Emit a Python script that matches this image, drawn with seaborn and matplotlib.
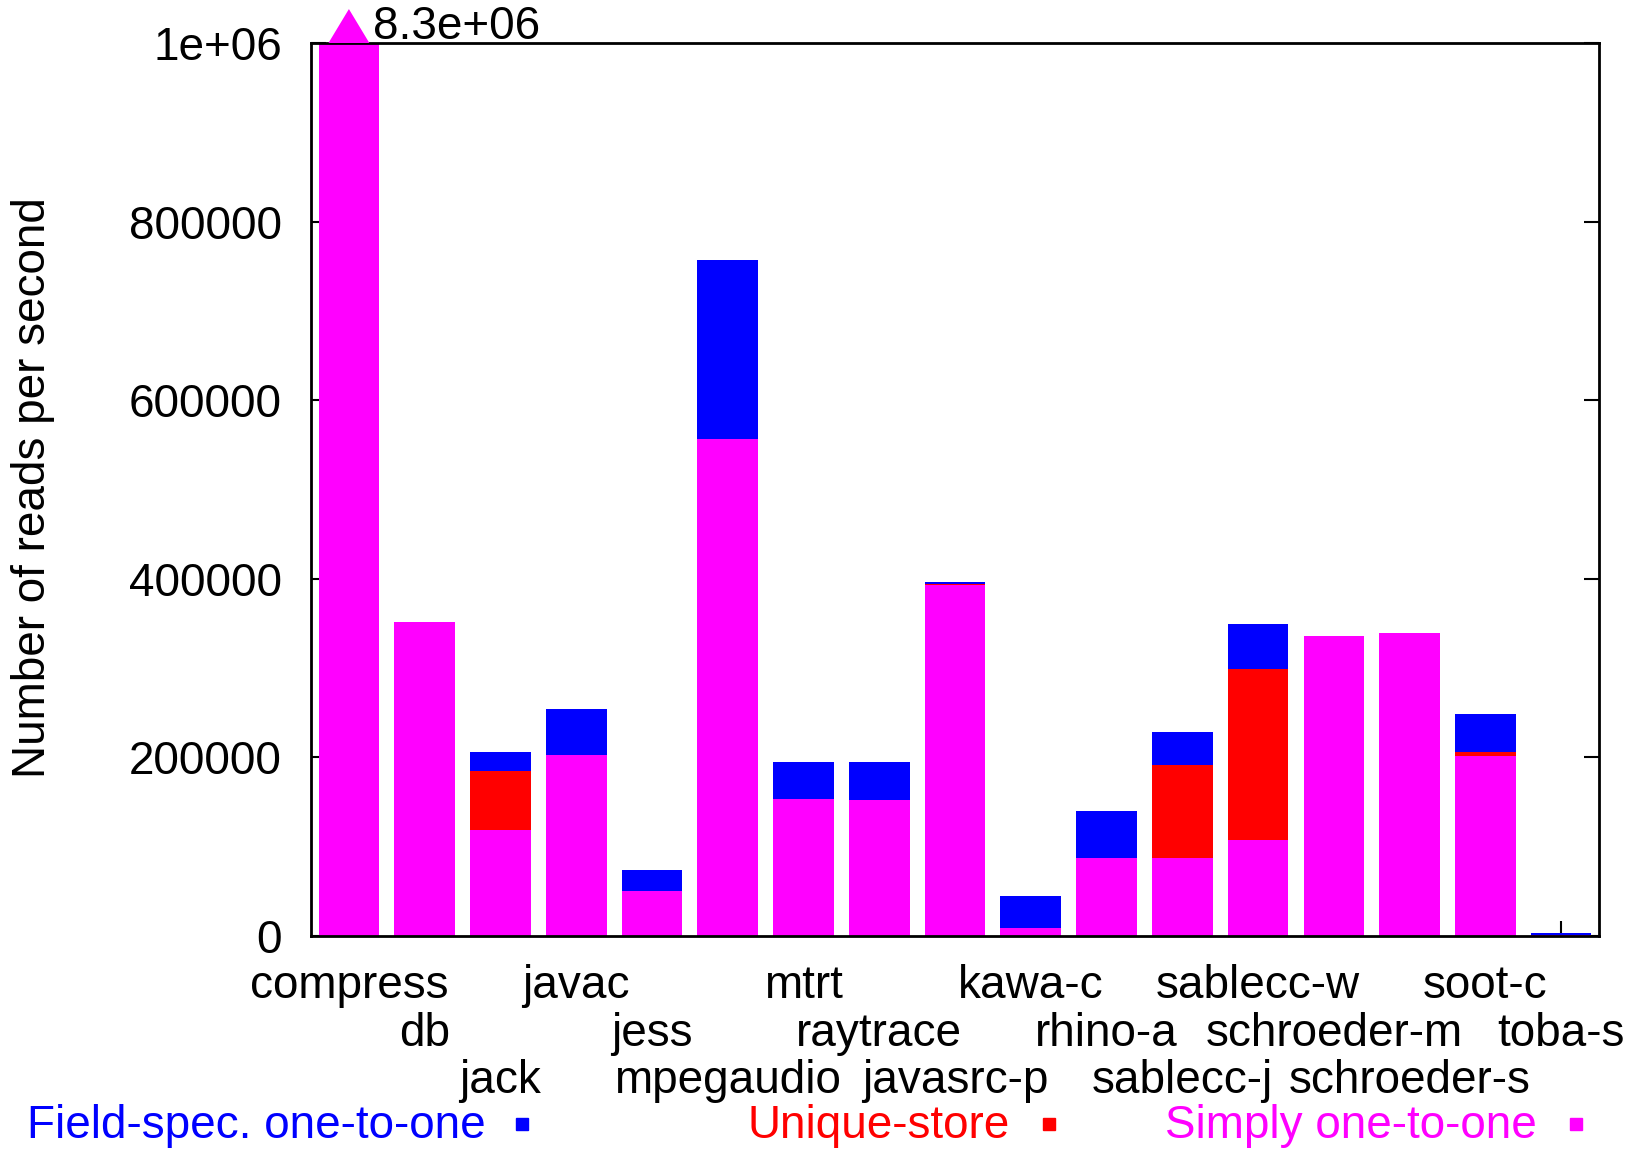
import numpy as np
import pandas as pd
import matplotlib
matplotlib.use('Agg')
import matplotlib.pyplot as plt
import seaborn as sns

# benchmarks in plot order
benchmarks = ['compress', 'db', 'jack', 'javac', 'jess', 'mpegaudio', 'mtrt',
              'raytrace', 'javasrc-p', 'kawa-c', 'rhino-a', 'sablecc-j',
              'sablecc-w', 'schroeder-m', 'schroeder-s', 'soot-c', 'toba-s']

# reads per second (bars are overlaid, not stacked)
field_spec = [8.3e6, 352000, 206000, 254000, 74000, 757000, 195000, 195000,
              396000, 45000, 140000, 229000, 349000, 336000, 339000, 248500, 3500]
unique_store = [8.3e6, 352000, 184700, 202700, 50400, 557000, 153000, 152000,
                394000, 9000, 87300, 191600, 299000, 336000, 339000, 206000, 1500]
simply = [8.3e6, 352000, 118700, 202700, 50400, 557000, 153000, 152000,
          392700, 9000, 87300, 87600, 107500, 336000, 339000, 201600, 1500]

series = [('Field-spec. one-to-one', field_spec, '#0000ff'),
          ('Unique-store', unique_store, '#ff0000'),
          ('Simply one-to-one', simply, '#ff00ff')]

yticks = [0, 200000, 400000, 600000, 800000, 1000000]
ytick_labels = ['0', '200000', '400000', '600000', '800000', '1e+06']
ymax = 1e6

sns.set_style('white')
plt.rcParams['font.family'] = ['Liberation Sans', 'DejaVu Sans']
plt.rcParams['text.color'] = 'black'
plt.rcParams['xtick.color'] = 'black'
plt.rcParams['ytick.color'] = 'black'
plt.rcParams['axes.labelcolor'] = 'black'
FS = 33

fig = plt.figure(figsize=(16.37, 11.5), dpi=100)
ax = fig.add_axes([0.190, 0.186, 0.7868, 0.7766])

for name, vals, col in series:
    df = pd.DataFrame({'bench': benchmarks, 'reads': vals})
    sns.barplot(data=df, x='bench', y='reads', color=col, saturation=1,
                width=0.8, linewidth=0, ax=ax, order=benchmarks)

ax.set_xlim(-0.5, len(benchmarks) - 0.5)
ax.set_ylim(0, ymax)
ax.set_axisbelow(True)

# arrow + value for bars that go off the top
for i, v in enumerate(simply):
    if v > ymax:
        ax.fill([i - 0.27, i, i + 0.27], [ymax, ymax * 1.038, ymax],
                color='#ff00ff', clip_on=False, zorder=5, linewidth=0)
        ax.annotate(f'{v:.1e}', xy=(i, 1), xycoords=('data', 'axes fraction'),
                    xytext=(24, 4), textcoords='offset pixels', fontsize=FS,
                    ha='left', va='baseline')

ax.set_yticks(yticks)
ax.set_yticklabels(ytick_labels)
ax.set_xticks(range(len(benchmarks)))
ax.set_xticklabels([''] * len(benchmarks))
ax.tick_params(axis='y', direction='in', length=11, width=1.5, labelsize=FS,
               pad=21, left=True, right=True, color='black', labelcolor='black')
ax.tick_params(axis='x', direction='in', length=11, width=1.5, bottom=True,
               top=False, color='black')
for s in ax.spines.values():
    s.set_visible(True)
    s.set_color('black')
    s.set_linewidth(2)
ax.set_xlabel('')
ax.set_ylabel('')

# staggered benchmark names (3 rows)
rows = [-0.056, -0.110, -0.1625]
for i, name in enumerate(benchmarks):
    ax.text(i, rows[i % 3], name, transform=ax.get_xaxis_transform(),
            ha='center', va='center', fontsize=FS, color='black')

fig.text(0.0204, 0.576, 'Number of reads per second', rotation=90,
         ha='center', va='center', fontsize=FS, color='black')

# legend along the bottom
leg_y = 0.0205
leg_text_x = [0.2965, 0.617, 0.939]
leg_mark_x = [0.319, 0.6407, 0.9627]
for (name, vals, col), tx, mx in zip(series, leg_text_x, leg_mark_x):
    fig.text(tx, leg_y, name, color=col, fontsize=FS, ha='right', va='center')
    fig.add_artist(plt.Line2D([mx], [leg_y + 0.002], marker='s', markersize=8,
                              color=col, linestyle='none',
                              transform=fig.transFigure))

fig.savefig('out.png', dpi=100)
